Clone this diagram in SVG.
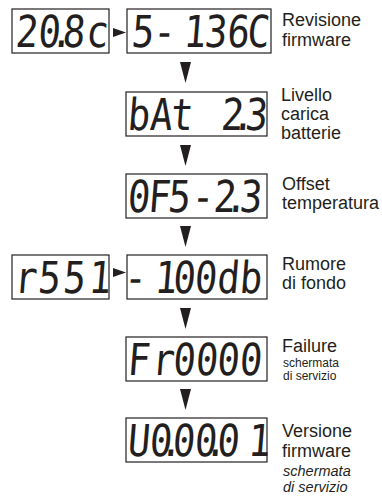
<svg xmlns="http://www.w3.org/2000/svg" width="382" height="497" viewBox="0 0 382 497">
<style>
.box{fill:#fff;stroke:#231f20;stroke-width:1.2}
.seg{font-family:"DejaVu Sans Mono",monospace;font-size:44px;fill:#231f20;text-anchor:middle}
.lbl{font-family:"Liberation Sans",Arial,sans-serif;font-size:18px;fill:#231f20}
.sm{font-size:12px}
.it{font-style:italic;font-size:14.5px}
.arr{fill:#231f20}
</style>
<rect width="382" height="497" fill="#fff"/>
<g id="n1">
<rect class="box" x="12" y="9" width="97" height="44"/>
<text class="seg" transform="matrix(0.85 0 -0.08 1 0 47)" x="30.6 57.1 71.8 85.9 113.5" y="0">20.8c</text>
</g>
<g id="n2">
<rect class="box" x="127" y="9" width="144" height="44"/>
<text class="seg" transform="matrix(0.85 0 -0.08 1 0 47)" x="167.1 192.4 228.2 252.9 279.4 302.9" y="0">5-136C</text>
<text class="lbl" x="282" y="25.5">Revisione</text>
<text class="lbl" x="282" y="45.5">firmware</text>
</g>
<g id="n3">
<rect class="box" x="126" y="92" width="141" height="44"/>
<text class="seg" transform="matrix(0.85 0 -0.08 1 0 130)" x="162.4 188.8 212.9 272.4 285.3 300.6" y="0">bAt2.3</text>
<text class="lbl" x="281" y="100.5">Livello</text>
<text class="lbl" x="281" y="119.5">carica</text>
<text class="lbl" x="281" y="138.5">batterie</text>
</g>
<g id="n4">
<rect class="box" x="126" y="174" width="141" height="44"/>
<text class="seg" transform="matrix(0.85 0 -0.08 1 0 212)" x="162.4 186.5 210 237.6 263.5 277.1 294.1" y="0">0F5-2.3</text>
<text class="lbl" x="282" y="189.5">Offset</text>
<text class="lbl" x="282" y="209">temperatura</text>
</g>
<g id="n5">
<rect class="box" x="12" y="255" width="97" height="44"/>
<text class="seg" transform="matrix(0.85 0 -0.08 1 0 293)" x="29.4 57.1 86.5 116.5" y="0">r551</text>
</g>
<g id="n6">
<rect class="box" x="127" y="255" width="140" height="44"/>
<text class="seg" transform="matrix(0.85 0 -0.08 1 0 293)" x="158.2 194.1 215.9 241.2 267.6 294.1" y="0">-100db</text>
<text class="lbl" x="282" y="269.5">Rumore</text>
<text class="lbl" x="282" y="289">di fondo</text>
</g>
<g id="n7">
<rect class="box" x="126" y="337" width="141" height="44"/>
<text class="seg" transform="matrix(0.85 0 -0.08 1 0 375)" x="162.4 191.2 215.9 242.4 267.6 294.1" y="0">Fr0000</text>
<text class="lbl" x="282" y="351.5">Failure</text>
<text class="lbl sm" x="283" y="366.5">schermata</text>
<text class="lbl sm" x="283" y="380">di servizio</text>
</g>
<g id="n8">
<rect class="box" x="126" y="418" width="141" height="44"/>
<text class="seg" transform="matrix(0.85 0 -0.08 1 0 456)" x="162.4 188.2 200.6 215.3 241.2 252.9 267.6 304.1" y="0">U0.00.01</text>
<text class="lbl" x="282" y="437">Versione</text>
<text class="lbl" x="282" y="456.5">firmware</text>
<text class="lbl it" x="283" y="476">schermata</text>
<text class="lbl it" x="283" y="492">di servizio</text>
</g>
<g id="connectors">
<polygon class="arr" points="113,28 126,32.5 113,37"/>
<polygon class="arr" points="113,268 126,272.5 113,277"/>
<polygon class="arr" points="180,62 191,62 185.5,83"/>
<polygon class="arr" points="180,145 191,145 185.5,166"/>
<polygon class="arr" points="180,226 191,226 185.5,247"/>
<polygon class="arr" points="180,308 191,308 185.5,329"/>
<polygon class="arr" points="180,389 191,389 185.5,410"/>
</g>
</svg>
